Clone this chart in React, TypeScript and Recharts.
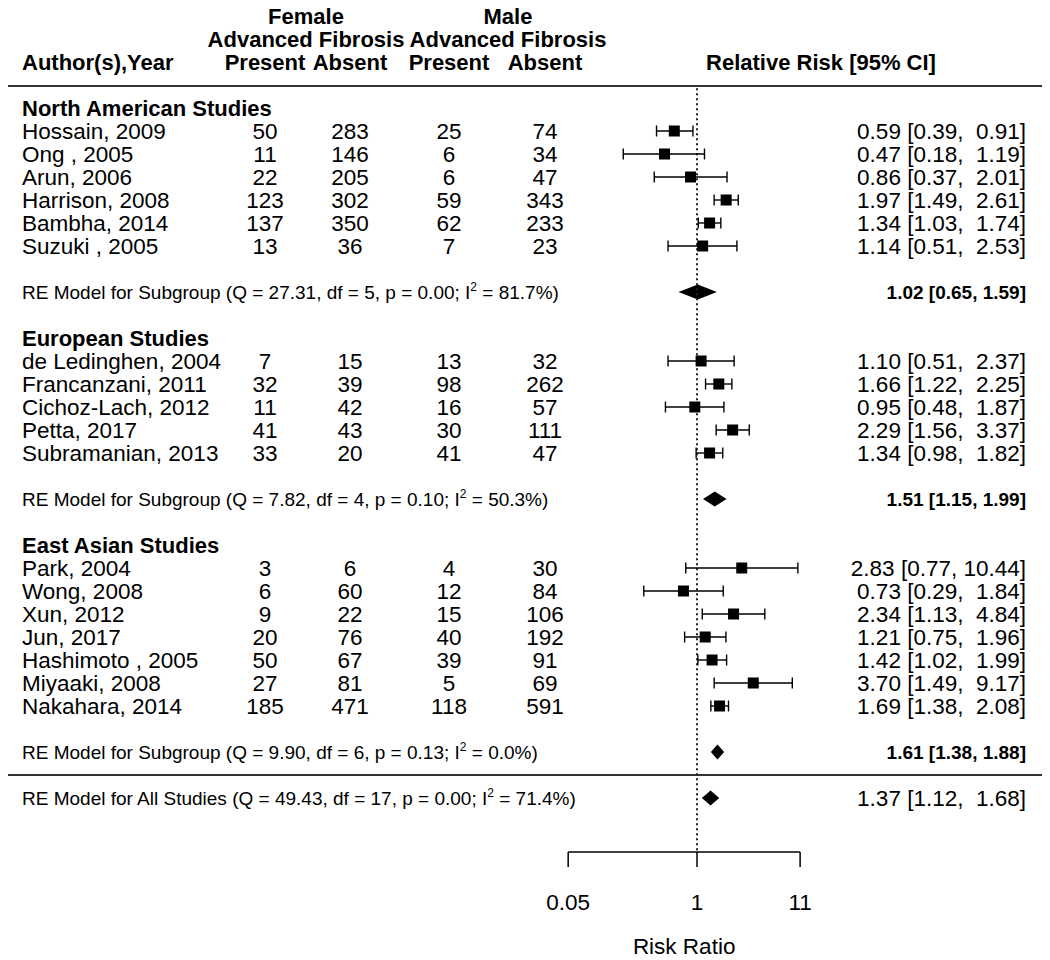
import React from "react";
import {
  ComposedChart,
  XAxis,
  YAxis,
  Scatter,
  ErrorBar,
  ReferenceLine,
  ReferenceArea,
} from "recharts";

// ---- data ----
const groupNames = ["North American Studies", "European Studies", "East Asian Studies"];
const groupSizes = [6, 5, 7];

const studyNames = [
  "Hossain, 2009",
  "Ong , 2005",
  "Arun, 2006",
  "Harrison, 2008",
  "Bambha, 2014",
  "Suzuki , 2005",
  "de Ledinghen, 2004",
  "Francanzani, 2011",
  "Cichoz-Lach, 2012",
  "Petta, 2017",
  "Subramanian, 2013",
  "Park, 2004",
  "Wong, 2008",
  "Xun, 2012",
  "Jun, 2017",
  "Hashimoto , 2005",
  "Miyaaki, 2008",
  "Nakahara, 2014",
];
const femalePresent = [50, 11, 22, 123, 137, 13, 7, 32, 11, 41, 33, 3, 6, 9, 20, 50, 27, 185];
const femaleAbsent = [283, 146, 205, 302, 350, 36, 15, 39, 42, 43, 20, 6, 60, 22, 76, 67, 81, 471];
const malePresent = [25, 6, 6, 59, 62, 7, 13, 98, 16, 30, 41, 4, 12, 15, 40, 39, 5, 118];
const maleAbsent = [74, 34, 47, 343, 233, 23, 32, 262, 57, 111, 47, 30, 84, 106, 192, 91, 69, 591];

const rr = [0.59, 0.47, 0.86, 1.97, 1.34, 1.14, 1.1, 1.66, 0.95, 2.29, 1.34, 2.83, 0.73, 2.34, 1.21, 1.42, 3.7, 1.69];
const ciLow = [0.39, 0.18, 0.37, 1.49, 1.03, 0.51, 0.51, 1.22, 0.48, 1.56, 0.98, 0.77, 0.29, 1.13, 0.75, 1.02, 1.49, 1.38];
const ciHigh = [0.91, 1.19, 2.01, 2.61, 1.74, 2.53, 2.37, 2.25, 1.87, 3.37, 1.82, 10.44, 1.84, 4.84, 1.96, 1.99, 9.17, 2.08];

const subRR = [1.02, 1.51, 1.61];
const subLow = [0.65, 1.15, 1.38];
const subHigh = [1.59, 1.99, 1.88];
const subQ = ["27.31", "7.82", "9.90"];
const subDf = [5, 4, 6];
const subP = ["0.00", "0.10", "0.13"];
const subI2 = ["81.7", "50.3", "0.0"];

const overallEst = [1.37, 1.12, 1.68]; // estimate, lower, upper
const overallStats = ["49.43", "17", "0.00", "71.4"]; // Q, df, p, I2

const axisTicks = [0.05, 1, 11];
const axisLabels = ["0.05", "1", "11"];

// ---- layout ----
const W = 1050;
const H = 960;
const ROW_TOP = 131; // pixel y of row 0
const ROW_H = 23;
const Y_DOMAIN = [-ROW_TOP / ROW_H, (H - ROW_TOP) / ROW_H];
const X_DOMAIN = [1.1e-7, 3050]; // RR = 1 lands at x ~ 697, ~43px per log unit
const COL = { label: 22, fPres: 265, fAbs: 350, mPres: 449, mAbs: 545, ci: 1026 };
const FONT = "'Liberation Sans', Arial, Helvetica, sans-serif";
const BODY = 22.5;
const DIAMOND_HALF = 0.33;

type Cell = {
  text: React.ReactNode;
  x: number;
  anchor?: "start" | "middle" | "end";
  size?: number;
  bold?: boolean;
};

const f2 = (v: number) => v.toFixed(2);
const ciText = (est: number, lo: number, hi: number, w: number) =>
  `${f2(est)} [${f2(lo)}, ${f2(hi).padStart(w)}]`;

const reLabel = (what: string, q: string, df: string | number, p: string, i2: string) => (
  <>
    <tspan>{`RE Model for ${what} (Q = ${q}, df = ${df}, p = ${p}; I`}</tspan>
    <tspan dy={-8} fontSize={12}>
      2
    </tspan>
    <tspan dy={8}>{` = ${i2}%)`}</tspan>
  </>
);

// build rows
const headerPoints: any[] = [];
const studyPoints: any[] = [];
const subPoints: any[] = [];
let row = -1;
let idx = 0;
groupNames.forEach((name, g) => {
  headerPoints.push({ x: 1, y: row, cells: [{ text: name, x: COL.label, bold: true, size: 22 }] });
  row++;
  for (let k = 0; k < groupSizes[g]; k++, idx++, row++) {
    studyPoints.push({
      x: rr[idx],
      y: row,
      err: [rr[idx] - ciLow[idx], ciHigh[idx] - rr[idx]],
      cells: [
        { text: studyNames[idx], x: COL.label },
        { text: femalePresent[idx], x: COL.fPres, anchor: "middle" },
        { text: femaleAbsent[idx], x: COL.fAbs, anchor: "middle" },
        { text: malePresent[idx], x: COL.mPres, anchor: "middle" },
        { text: maleAbsent[idx], x: COL.mAbs, anchor: "middle" },
        { text: ciText(rr[idx], ciLow[idx], ciHigh[idx], 5), x: COL.ci, anchor: "end" },
      ],
    });
  }
  row++;
  subPoints.push({
    x: 1,
    y: row,
    est: subRR[g],
    lo: subLow[g],
    hi: subHigh[g],
    cells: [
      { text: reLabel("Subgroup", subQ[g], subDf[g], subP[g], subI2[g]), x: COL.label, size: 19 },
      { text: ciText(subRR[g], subLow[g], subHigh[g], 4), x: COL.ci, anchor: "end", size: 19, bold: true },
    ],
  });
  row += 2;
});
const SEP_ROW = row - 1;
const ALL_ROW = row;
const AXIS_ROW = ALL_ROW + 2.35;
const HEAD_LINE_ROW = -1.96;

const overallPoints = [
  {
    x: 1,
    y: ALL_ROW,
    est: overallEst[0],
    lo: overallEst[1],
    hi: overallEst[2],
    cells: [
      {
        text: reLabel("All Studies", overallStats[0], overallStats[1], overallStats[2], overallStats[3]),
        x: COL.label,
        size: 19,
      },
      { text: ciText(overallEst[0], overallEst[1], overallEst[2], 5), x: COL.ci, anchor: "end" },
    ],
  },
];

const columnHeaders = [
  {
    x: 1,
    y: -5,
    cells: [
      { text: "Female", x: 306, anchor: "middle", bold: true, size: 22 },
      { text: "Male", x: 508, anchor: "middle", bold: true, size: 22 },
    ],
  },
  {
    x: 1,
    y: -4,
    cells: [
      { text: "Advanced Fibrosis", x: 306, anchor: "middle", bold: true, size: 22 },
      { text: "Advanced Fibrosis", x: 508, anchor: "middle", bold: true, size: 22 },
    ],
  },
  {
    x: 1,
    y: -3,
    cells: [
      { text: "Author(s),Year", x: COL.label, bold: true, size: 22 },
      { text: "Present", x: COL.fPres, anchor: "middle", bold: true, size: 22 },
      { text: "Absent", x: COL.fAbs, anchor: "middle", bold: true, size: 22 },
      { text: "Present", x: COL.mPres, anchor: "middle", bold: true, size: 22 },
      { text: "Absent", x: COL.mAbs, anchor: "middle", bold: true, size: 22 },
      { text: "Relative Risk [95% CI]", x: 821, anchor: "middle", bold: true, size: 22 },
    ],
  },
];

const tickPoints = axisTicks.map((t, i) => ({ x: t, y: AXIS_ROW, label: axisLabels[i] }));
const xlabPoint = [{ x: Math.sqrt(axisTicks[0] * axisTicks[2]), y: AXIS_ROW, label: "Risk Ratio" }];

// ---- shapes ----
const TextRow = (props: any) => {
  const { cy, payload } = props;
  return (
    <g>
      {payload.cells.map((c: Cell, i: number) => {
        const size = c.size ?? BODY;
        return (
          <text
            key={i}
            x={c.x}
            y={cy + size * 0.36}
            textAnchor={c.anchor ?? "start"}
            fontSize={size}
            fontWeight={c.bold ? 700 : 400}
            fontFamily={FONT}
            fill="#000"
            style={{ whiteSpace: "pre" }}
          >
            {c.text}
          </text>
        );
      })}
    </g>
  );
};

const Square = (props: any) => {
  const { cx, cy } = props;
  return <rect x={cx - 5.5} y={cy - 5.5} width={11} height={11} fill="#000" />;
};

const Tick = (props: any) => {
  const { cx, cy, payload } = props;
  return (
    <g>
      <line x1={cx} y1={cy} x2={cx} y2={cy + 15} stroke="#000" strokeWidth={1.5} />
      <text x={cx} y={cy + 58} textAnchor="middle" fontSize={BODY} fontFamily={FONT} fill="#000">
        {payload.label}
      </text>
    </g>
  );
};

const XLab = (props: any) => {
  const { cx, cy, payload } = props;
  return (
    <text x={cx} y={cy + 102} textAnchor="middle" fontSize={BODY} fontFamily={FONT} fill="#000">
      {payload.label}
    </text>
  );
};

const diamondShape = (est: number, lo: number, hi: number) => (p: any) => {
  const { x, y, width, height } = p;
  const f = (Math.log(est) - Math.log(lo)) / (Math.log(hi) - Math.log(lo));
  const mid = y + height / 2;
  const tip = x + width * f;
  return (
    <polygon
      points={`${x},${mid} ${tip},${y} ${x + width},${mid} ${tip},${y + height}`}
      fill="#000"
    />
  );
};

export default function App() {
  const diamonds = [...subPoints, ...overallPoints];
  return (
    <div style={{ position: "absolute", left: 0, top: 0, width: W, height: H, background: "#fff" }}>
      <ComposedChart width={W} height={H} margin={{ top: 0, right: 8, bottom: 0, left: 8 }}>
        <XAxis
          dataKey="x"
          type="number"
          scale="log"
          domain={X_DOMAIN}
          allowDataOverflow
          hide
        />
        <YAxis dataKey="y" type="number" domain={Y_DOMAIN} reversed allowDataOverflow hide />

        <ReferenceLine y={HEAD_LINE_ROW} stroke="#333" strokeWidth={2} />
        <ReferenceLine y={SEP_ROW} stroke="#333" strokeWidth={2} />
        <ReferenceLine
          segment={[
            { x: 1, y: HEAD_LINE_ROW + 0.1 },
            { x: 1, y: AXIS_ROW },
          ]}
          stroke="#222"
          strokeWidth={2}
          strokeDasharray="2 3"
        />
        <ReferenceLine
          segment={[
            { x: axisTicks[0], y: AXIS_ROW },
            { x: axisTicks[2], y: AXIS_ROW },
          ]}
          stroke="#000"
          strokeWidth={1.5}
        />

        {diamonds.map((d, i) => (
          <ReferenceArea
            key={i}
            x1={d.lo}
            x2={d.hi}
            y1={d.y - DIAMOND_HALF}
            y2={d.y + DIAMOND_HALF}
            shape={diamondShape(d.est, d.lo, d.hi)}
          />
        ))}

        <Scatter data={studyPoints} shape={Square} isAnimationActive={false}>
          <ErrorBar
            dataKey="err"
            direction="x"
            width={5.5}
            stroke="#000"
            strokeWidth={1.4}
            isAnimationActive={false}
          />
        </Scatter>

        <Scatter data={columnHeaders} shape={TextRow} isAnimationActive={false} />
        <Scatter data={headerPoints} shape={TextRow} isAnimationActive={false} />
        <Scatter data={studyPoints} shape={TextRow} isAnimationActive={false} />
        <Scatter data={subPoints} shape={TextRow} isAnimationActive={false} />
        <Scatter data={overallPoints} shape={TextRow} isAnimationActive={false} />
        <Scatter data={tickPoints} shape={Tick} isAnimationActive={false} />
        <Scatter data={xlabPoint} shape={XLab} isAnimationActive={false} />
      </ComposedChart>
    </div>
  );
}
